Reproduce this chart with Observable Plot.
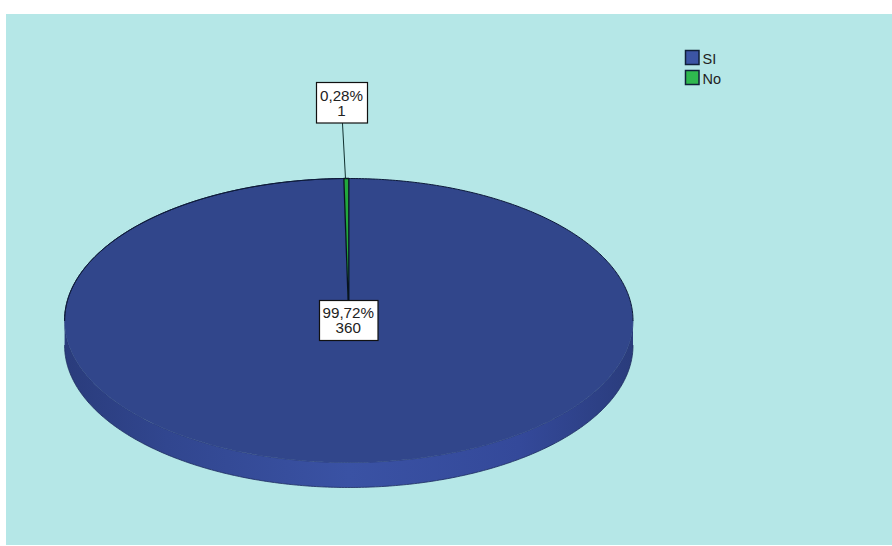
<!DOCTYPE html>
<html>
<head>
<meta charset="utf-8">
<script src="https://cdn.jsdelivr.net/npm/d3@7"></script>
<script src="https://cdn.jsdelivr.net/npm/@observablehq/plot@0.6"></script>
<style>html,body{margin:0;padding:0;background:#fff}svg{display:block}</style>
</head>
<body>
<div id="chart"></div>
<script>
const categories = ["Sí", "No"];
const legendLabels = ["SI", "No"];
const counts = [360, 1];
const percents = ["99,72%", "0,28%"];
const colors = ["#31468b", "#22a83c"];
const legendColors = ["#3c55a5", "#2fb84f"];

// pie geometry, in the chart's own units
const cx = 348.3, cy = 320, rx = 284.2, ry = 142, depth = 25;
const total = d3.sum(counts);
const pt = (a, dy = 0) => ({x: cx + rx * Math.sin(a), y: cy - ry * Math.cos(a) + dy});
const arc = (a0, a1, dy = 0) => {
  const out = [];
  const n = Math.max(2, Math.ceil(Math.abs(a1 - a0) / 0.01));
  for (let i = 0; i <= n; i++) out.push(pt(a0 + (a1 - a0) * i / n, dy));
  return out;
};

// slices run clockwise from the top of the pie, "No" ends at the top
const tau = 2 * Math.PI;
const noAngle = tau * counts[1] / total;
const slices = [
  {name: categories[0], a0: 0, a1: tau - noAngle},
  {name: categories[1], a0: tau - noAngle, a1: tau}
];
const slicePts = slices.flatMap((s) =>
  [{x: cx, y: cy}, ...arc(s.a0, s.a1), {x: cx, y: cy}].map((p) => ({...p, name: s.name}))
);
const sidePts = [...arc(Math.PI / 2, 3 * Math.PI / 2), ...arc(3 * Math.PI / 2, Math.PI / 2, depth)];
const rimLow = arc(Math.PI / 2, 3 * Math.PI / 2, depth);
const rimHigh = arc(Math.PI / 2, 3 * Math.PI / 2);
const rimTop = arc(-Math.PI / 2, Math.PI / 2);

const labels = [
  {x1: 319.5, x2: 378, y1: 300.5, y2: 340.5, t: `${percents[0]}\n${counts[0]}`},
  {x1: 316.5, x2: 367.5, y1: 82.5, y2: 123, t: `${percents[1]}\n${counts[1]}`}
];
const leader = [{x: 342, y: 123}, {x: 345, y: 178}];
const legend = legendLabels.map((t, i) => ({t, c: legendColors[i], y1: 50.5 + 20 * i, y2: 64.5 + 20 * i}));

const chart = Plot.plot({
  width: 892, height: 546,
  margin: 0,
  x: {domain: [0, 892], range: [0, 892], axis: null},
  y: {domain: [0, 546], range: [0, 546], axis: null},
  style: {background: "#fff", fontFamily: "'Liberation Sans', Arial, sans-serif"},
  marks: [
    Plot.rect([{x1: 6, x2: 892, y1: 14, y2: 545}], {x1: "x1", x2: "x2", y1: "y1", y2: "y2", fill: "#b5e7e7"}),
    Plot.line(sidePts, {x: "x", y: "y", fill: "url(#pieSide)", stroke: "none", curve: "linear-closed"}),
    Plot.line(rimLow, {x: "x", y: "y", stroke: "#1d2c5e", strokeWidth: 0.8}),
    Plot.line(rimHigh, {x: "x", y: "y", stroke: "#26386f", strokeWidth: 0.7}),
    Plot.line(slicePts.filter((d) => d.name === categories[0]), {x: "x", y: "y", fill: colors[0], stroke: "none"}),
    Plot.line(rimTop, {x: "x", y: "y", stroke: "#0d1a3a", strokeWidth: 1}),
    Plot.line(arc(3 * Math.PI / 2, tau), {x: "x", y: "y", stroke: "#0d1a3a", strokeWidth: 1}),
    Plot.line(slicePts.filter((d) => d.name === categories[1]), {x: "x", y: "y", fill: colors[1], stroke: "#081420", strokeWidth: 1.3}),
    Plot.line(leader, {x: "x", y: "y", stroke: "#10302f", strokeWidth: 1}),
    Plot.rect(labels, {x1: "x1", x2: "x2", y1: "y1", y2: "y2", fill: "#fff", stroke: "#111", strokeWidth: 1.2}),
    Plot.text(labels, {
      x: (d) => (d.x1 + d.x2) / 2 - 1, y: (d) => (d.y1 + d.y2) / 2, text: "t",
      fontSize: 15.2, lineHeight: 1, fill: "#222"
    }),
    Plot.rect(legend, {x1: 685.5, x2: 699, y1: "y1", y2: "y2", fill: "c", stroke: "#10203a", strokeWidth: 1.5}),
    Plot.text(legend, {x: 702, y: (d) => (d.y1 + d.y2) / 2 + 1, text: "t", textAnchor: "start", fontSize: 14.5, fill: "#222"})
  ]
});

const defs = d3.select(chart).insert("defs", ":first-child");
const grad = defs.append("linearGradient").attr("id", "pieSide")
  .attr("gradientUnits", "userSpaceOnUse")
  .attr("x1", chart.scale("x").apply(cx - rx)).attr("x2", chart.scale("x").apply(cx + rx))
  .attr("y1", 0).attr("y2", 0);
[[0, "#2a3c7c"], [0.18, "#31468f"], [0.5, "#3a52a4"], [0.8, "#34499a"], [1, "#2a3c7c"]]
  .forEach(([o, c]) => grad.append("stop").attr("offset", o).attr("stop-color", c));

document.getElementById("chart").append(chart);
</script>
</body>
</html>
